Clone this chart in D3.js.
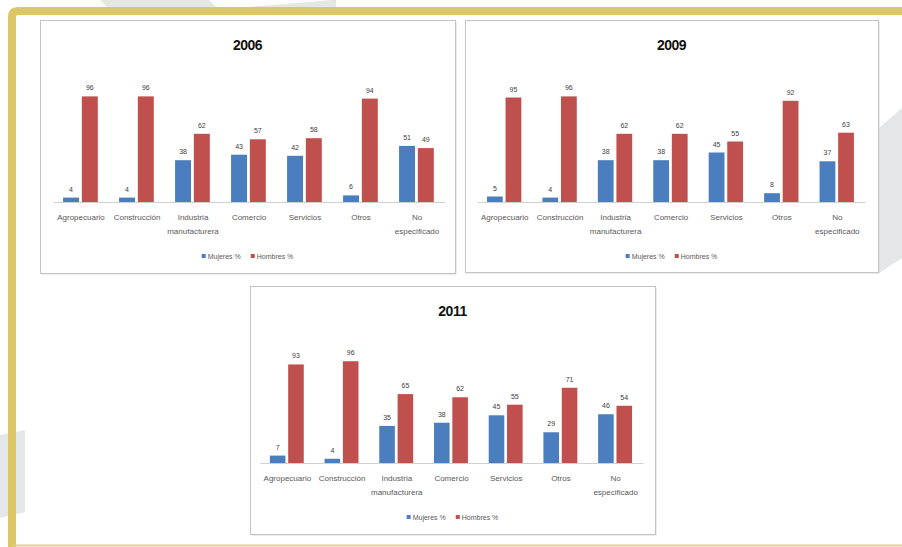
<!DOCTYPE html>
<html>
<head>
<meta charset="utf-8">
<script src="https://cdn.jsdelivr.net/npm/d3@7"></script>
<style>
  body { margin: 0; background: #fff; }
  text { font-family: "Liberation Sans", Arial, sans-serif; }
</style>
</head>
<body>
<script>
// data
var categories = ["Agropecuario", "Construcción", "Industria manufacturera", "Comercio", "Servicios", "Otros", "No especificado"];
var seriesNames = ["Mujeres %", "Hombres %"];
var years = ["2006", "2009", "2011"];

var mujeres2006 = [4, 4, 38, 43, 42, 6, 51];
var hombres2006 = [96, 96, 62, 57, 58, 94, 49];
var mujeres2009 = [5, 4, 38, 38, 45, 8, 37];
var hombres2009 = [95, 96, 62, 62, 55, 92, 63];
var mujeres2011 = [7, 4, 35, 38, 45, 29, 46];
var hombres2011 = [93, 96, 65, 62, 55, 71, 54];

var colors = ["#4a7ebf", "#c0504d"];

var svgWidth = 902;
var svgHeight = 547;

var svg = d3.select("body")
    .append("svg")
    .attr("width", svgWidth)
    .attr("height", svgHeight);

// light grey background shapes
var shapes = [
    [[100, 0], [209, 0], [217, 8], [108, 8]],
    [[236, 8], [332, 0], [336, 0], [336, 8]],
    [[879, 128], [902, 108], [902, 258], [879, 273]],
    [[0, 435], [25, 430], [25, 512], [0, 518]]
];
svg.selectAll("polygon.bg")
    .data(shapes)
    .enter()
    .append("polygon")
    .attr("class", "bg")
    .attr("points", d => d.map(p => p.join(",")).join(" "))
    .attr("fill", "#e5e6e8");

// yellow frame
svg.append("path")
    .attr("d", "M12,560 L12,17 Q12,11 18,11 L910,11")
    .attr("fill", "none")
    .attr("stroke", "#dcc666")
    .attr("stroke-width", 8);
svg.append("line")
    .attr("x1", 12).attr("x2", 902)
    .attr("y1", 545.5).attr("y2", 545.5)
    .attr("stroke", "#e2d07e")
    .attr("stroke-width", 2);

// panel layout (box and plot area of each chart)
var panels = [
    { box: [40, 20, 415, 253], left: 53, right: 445, base: 202, span: 110 },
    { box: [465, 20, 413, 252], left: 477, right: 865, base: 202, span: 110 },
    { box: [250, 286, 405, 248], left: 260, right: 643, base: 463, span: 106 }
];

function drawPanel(p, year, mujeres, hombres) {
    var g = svg.append("g");
    var bx = p.box[0], by = p.box[1], bw = p.box[2], bh = p.box[3];
    var cx = bx + bw / 2;

    g.append("rect")
        .attr("x", bx + 1.5).attr("y", by + 1.5)
        .attr("width", bw).attr("height", bh)
        .attr("fill", "#d9d9d9");
    g.append("rect")
        .attr("x", bx + 0.5).attr("y", by + 0.5)
        .attr("width", bw).attr("height", bh)
        .attr("fill", "#fff")
        .attr("stroke", "#c4c4c4");

    g.append("text")
        .attr("x", cx)
        .attr("y", by + 30)
        .attr("text-anchor", "middle")
        .style("font-size", "14px")
        .style("font-weight", "bold")
        .style("letter-spacing", "-0.5px")
        .attr("fill", "#111")
        .text(year);

    var x0 = d3.scaleBand()
        .domain(categories)
        .range([p.left, p.right]);
    var bw0 = x0.bandwidth();
    var x1 = d3.scaleBand()
        .domain(seriesNames)
        .range([bw0 * 0.18, bw0 * 0.8])
        .paddingInner(0.15);
    var y = d3.scaleLinear()
        .domain([0, 100])
        .range([p.base, p.base - p.span]);

    var rows = [];
    categories.forEach(function(c, i) {
        rows.push({ cat: c, s: seriesNames[0], v: mujeres[i], c: colors[0] });
        rows.push({ cat: c, s: seriesNames[1], v: hombres[i], c: colors[1] });
    });

    g.selectAll("rect.bar")
        .data(rows)
        .enter()
        .append("rect")
        .attr("class", "bar")
        .attr("x", d => x0(d.cat) + x1(d.s))
        .attr("y", d => y(d.v))
        .attr("width", x1.bandwidth())
        .attr("height", d => y(0) - y(d.v))
        .attr("fill", d => d.c);

    g.selectAll("text.val")
        .data(rows)
        .enter()
        .append("text")
        .attr("class", "val")
        .attr("x", d => x0(d.cat) + x1(d.s) + x1.bandwidth() / 2)
        .attr("y", d => y(d.v) - 6)
        .attr("text-anchor", "middle")
        .style("font-size", "7px")
        .attr("fill", "#404040")
        .text(d => d.v);

    var axis = g.append("g")
        .attr("transform", `translate(0, ${p.base})`)
        .call(d3.axisBottom(x0).tickSize(0).tickSizeOuter(0).tickPadding(12));
    axis.select(".domain").attr("stroke", "#d0d0d0");
    axis.selectAll("text")
        .style("font-size", "8px")
        .style("font-family", "'Liberation Sans', Arial, sans-serif")
        .attr("fill", "#595959")
        .each(function(d) {
            var words = d.split(" ");
            if (words.length < 2) return;
            var t = d3.select(this).text(null);
            words.forEach(function(w, i) {
                t.append("tspan")
                    .attr("x", 0)
                    .attr("dy", i == 0 ? "0.71em" : "14px")
                    .text(w);
            });
            t.attr("dy", null);
        });

    // legend
    var leg = g.append("g").attr("transform", `translate(0, ${p.base + 55})`);
    var items = leg.selectAll("g")
        .data(seriesNames)
        .enter()
        .append("g");
    items.append("rect")
        .attr("width", 4).attr("height", 4)
        .attr("y", -3)
        .attr("fill", (d, i) => colors[i]);
    items.append("text")
        .attr("x", 6)
        .attr("y", 0)
        .attr("dy", "0.3em")
        .style("font-size", "7px")
        .attr("fill", "#595959")
        .text(d => d);
    var widths = [];
    items.select("text").each(function() { widths.push(this.getComputedTextLength() + 6); });
    var gap = 10;
    var total = widths[0] + gap + widths[1];
    var start = cx - total / 2;
    items.attr("transform", (d, i) => `translate(${i == 0 ? start : start + widths[0] + gap}, 0)`);
}

drawPanel(panels[0], years[0], mujeres2006, hombres2006);
drawPanel(panels[1], years[1], mujeres2009, hombres2009);
drawPanel(panels[2], years[2], mujeres2011, hombres2011);
</script>
</body>
</html>
